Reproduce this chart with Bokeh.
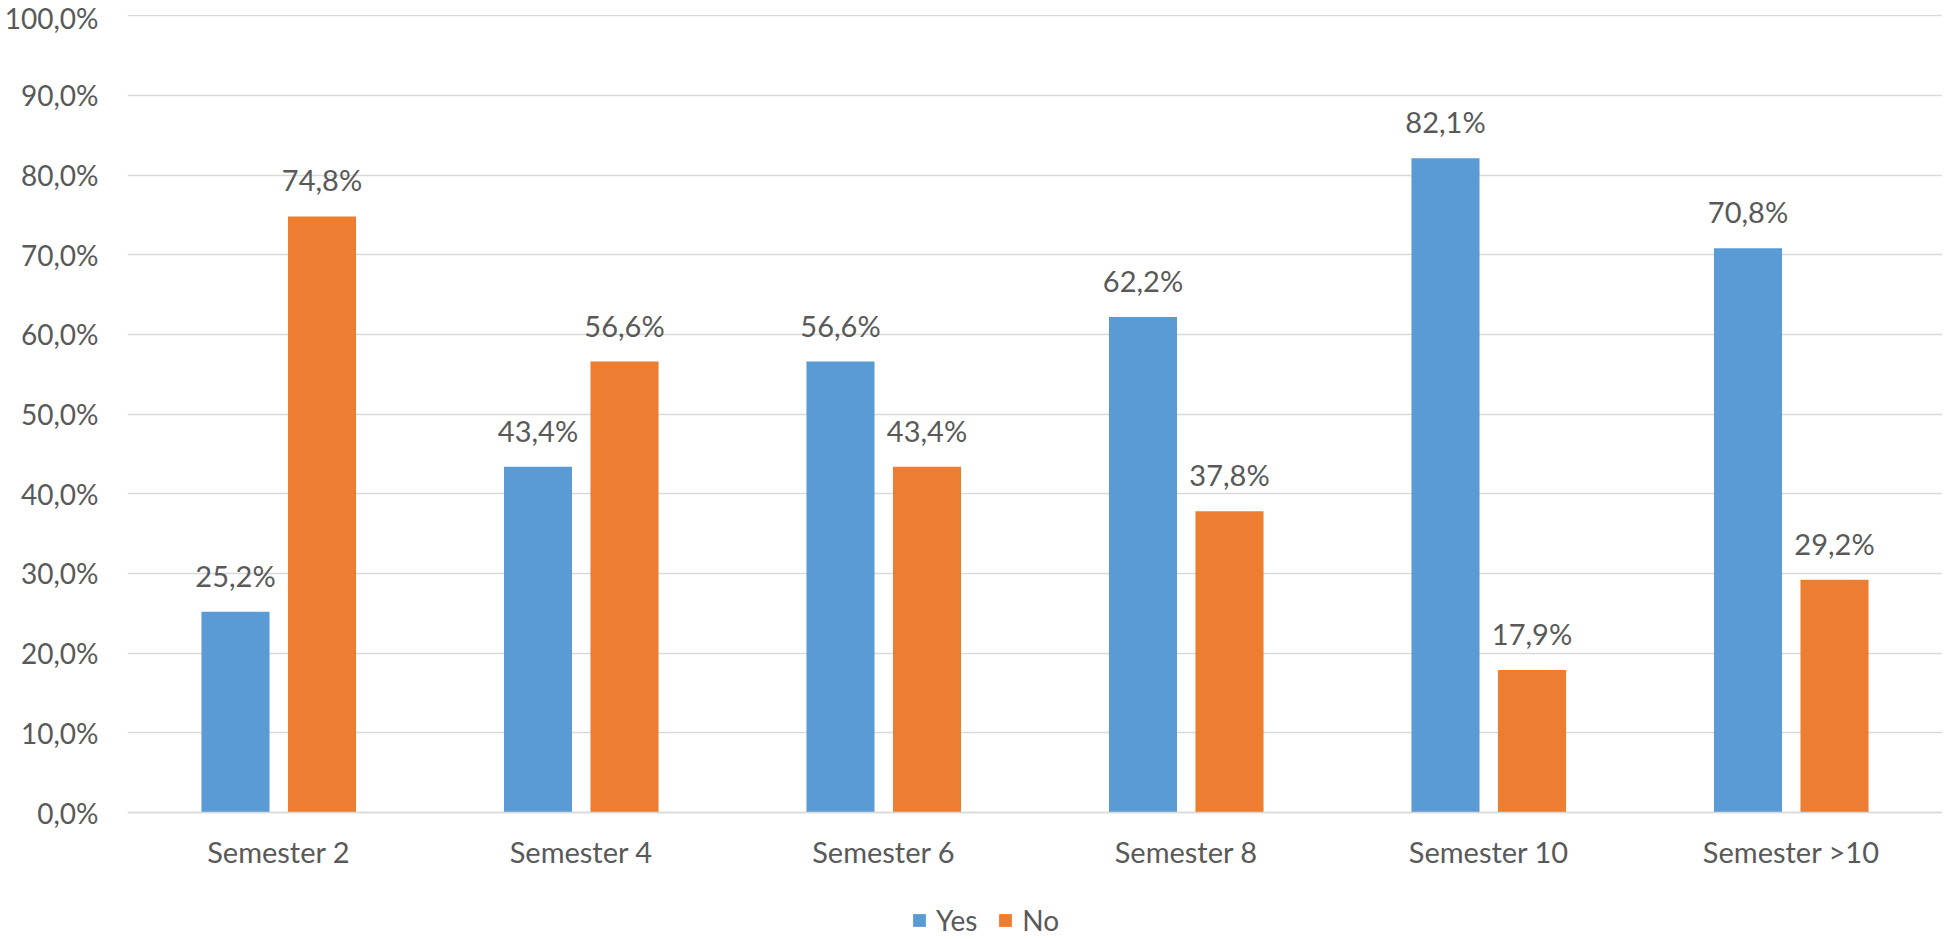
from bokeh.plotting import figure
from bokeh.models import (ColumnDataSource, FactorRange, LabelSet, Legend, LegendItem,
                          CustomJSTickFormatter, FixedTicker, Range1d)
from bokeh.core.properties import value
from bokeh.transform import dodge
from bokeh.embed import file_html
from bokeh.resources import INLINE

categories = ["Semester 2", "Semester 4", "Semester 6", "Semester 8", "Semester 10", "Semester >10"]
yes_values = [25.2, 43.4, 56.6, 62.2, 82.1, 70.8]
no_values = [74.8, 56.6, 43.4, 37.8, 17.9, 29.2]
y_ticks = [0, 10, 20, 30, 40, 50, 60, 70, 80, 90, 100]

FONT = "Lato"
TXT = "#595959"
BLUE = "#5B9BD5"
ORANGE = "#ED7D31"

def fmt(v):
    return f"{v:.1f}".replace(".", ",") + "%"

src = ColumnDataSource(dict(
    cat=categories,
    yes=yes_values,
    no=no_values,
    yes_lbl=[fmt(v) for v in yes_values],
    no_lbl=[fmt(v) for v in no_values],
))

# frame extends below 0 so that category labels and legend sit inside it
p = figure(x_range=FactorRange(*categories, range_padding=0), y_range=Range1d(-15.81, 100.15),
           frame_width=1815, frame_height=924, output_backend="svg", toolbar_location=None,
           min_border_left=127, min_border_right=0, min_border_top=14, min_border_bottom=0)
p.outline_line_color = None
p.background_fill_color = "white"

bw = 0.225
off = 0.143
r_yes = p.vbar(x=dodge("cat", -off, range=p.x_range), top="yes", width=bw, source=src,
               fill_color=BLUE, line_color=None)
r_no = p.vbar(x=dodge("cat", off, range=p.x_range), top="no", width=bw, source=src,
              fill_color=ORANGE, line_color=None)

for col, lbl, o in (("yes", "yes_lbl", -off), ("no", "no_lbl", off)):
    ls = LabelSet(x=dodge("cat", o, range=p.x_range), y=col, text=lbl, source=src,
                  text_align="center", text_baseline="alphabetic", y_offset=25,
                  text_font=value(FONT), text_font_size=value("29px"), text_color=value(TXT))
    p.add_layout(ls)

# axes
p.yaxis.ticker = FixedTicker(ticks=y_ticks)
p.yaxis.formatter = CustomJSTickFormatter(code="return tick.toFixed(1).replace('.', ',') + '%';")
p.yaxis.axis_line_color = None
p.yaxis.major_tick_line_color = None
p.yaxis.minor_tick_line_color = None
p.yaxis.major_tick_out = 0
p.yaxis.major_tick_in = 0
p.yaxis.major_label_standoff = 29
p.yaxis.major_label_text_font = FONT
p.yaxis.major_label_text_font_size = "28px"
p.yaxis.major_label_text_color = TXT

p.xaxis.fixed_location = 0
p.xaxis.axis_line_color = "#D9D9D9"
p.xaxis.axis_line_width = 1.5
p.xaxis.major_tick_line_color = None
p.xaxis.minor_tick_line_color = None
p.xaxis.major_tick_out = 0
p.xaxis.major_tick_in = 0
p.xaxis.major_label_standoff = 21
p.xaxis.major_label_text_font = FONT
p.xaxis.major_label_text_font_size = "29px"
p.xaxis.major_label_text_color = TXT

p.xgrid.grid_line_color = None
p.ygrid.grid_line_color = "#D9D9D9"
p.ygrid.grid_line_width = 1.5
p.ygrid.ticker = FixedTicker(ticks=y_ticks)

legend = Legend(items=[LegendItem(label="Yes", renderers=[r_yes]),
                       LegendItem(label="No", renderers=[r_no])],
                orientation="horizontal", location=(784, 1),
                label_text_font=FONT, label_text_font_size="28px", label_text_color=TXT,
                label_height=28, glyph_width=16, glyph_height=16, label_standoff=9, spacing=20,
                padding=0, margin=0, border_line_color=None, background_fill_alpha=0)
p.add_layout(legend, "center")

open("out.html", "w").write(file_html(p, INLINE))
